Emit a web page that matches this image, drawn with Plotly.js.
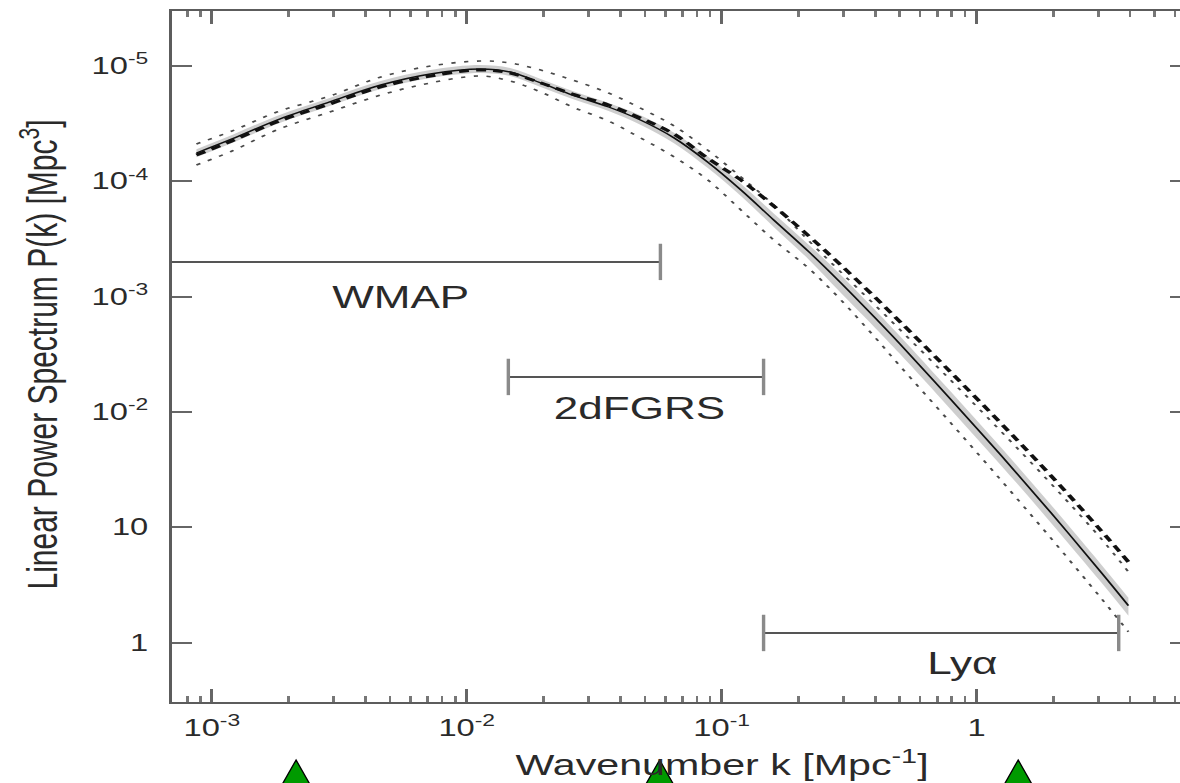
<!DOCTYPE html>
<html>
<head>
<meta charset="utf-8">
<script src="https://cdn.plot.ly/plotly-3.0.1.min.js"></script>
<style>
  html, body { margin: 0; padding: 0; background: #ffffff; overflow: hidden; width: 1180px; height: 783px; }
  #chart { width: 840px; height: 783px; transform: scaleX(1.42); transform-origin: 0 0; }
</style>
</head>
<body>
<div id="chart"></div>
<script>
// ---- data ----
const waveK = [0.00087, 0.0012, 0.0018, 0.0029, 0.0046, 0.0072, 0.0113, 0.0148, 0.0195, 0.026, 0.036, 0.048, 0.065, 0.088, 0.119, 0.16, 0.22, 0.29, 0.40, 0.50, 0.79, 1.25, 1.96, 3.08, 3.94];
const powerCentral = [17600, 23300, 34000, 48800, 68400, 85300, 94200, 88700, 71300, 56000, 44100, 34000, 23800, 14700, 8410, 4620, 2443, 1349, 653, 389, 129, 41.7, 13.3, 4.06, 2.09];
const powerDashed = [16900, 22400, 32700, 46800, 65800, 81900, 92300, 86900, 71300, 57100, 45900, 35400, 25700, 15900, 10250, 6110, 3342, 1923, 984, 608, 222, 79.1, 27.9, 9.33, 5.0];
const powerUpperDotted = [21100, 27300, 39900, 54900, 80300, 100000, 110500, 106200, 92300, 75600, 58300, 43200, 30200, 18700, 10900, 6220, 3038, 1672, 841, 518, 189, 67.4, 23.8, 7.95, 4.1];
const powerLowerDotted = [13850, 18300, 27900, 39900, 56000, 71300, 81900, 74100, 59500, 44100, 33300, 23800, 16300, 10300, 5640, 3100, 1750, 962, 442, 251, 80.7, 25.4, 8.0, 2.42, 1.24];
const bandHigh = [19000, 25200, 36900, 52800, 74100, 92400, 102000, 96100, 77200, 60700, 47800, 37400, 26400, 16500, 9500, 5267, 2809, 1582, 766, 456, 151, 48.9, 15.6, 4.76, 2.45];
const bandLow = [16200, 21500, 31400, 45000, 63200, 78800, 87000, 81900, 65800, 51700, 40700, 30900, 21400, 13100, 7440, 4017, 2088, 1105, 535, 319, 105.6, 34.2, 10.9, 3.33, 1.71];

const surveyNames = ['WMAP', '2dFGRS', 'Ly\u03b1'];
const surveyKmin = [0.00069, 0.01456, 0.146];
const surveyKmax = [0.0575, 0.146, 3.61];
const surveyLevel = [2000, 201, 1.21];
const surveyLeftCap = [false, true, true];
const surveyLabelK = [0.00548, 0.0476, 0.886];
const surveyLabelP = [991, 108, 0.664];

const markerK = [0.00214, 0.0571, 1.456];

const xTickVals = [0.001, 0.01, 0.1, 1];
const xTickText = ['10<sup>-3</sup>', '10<sup>-2</sup>', '10<sup>-1</sup>', '1'];
const xMinorVals = [0.0007, 0.0008, 0.0009, 0.002, 0.003, 0.004, 0.005, 0.006, 0.007, 0.008, 0.009,
  0.02, 0.03, 0.04, 0.05, 0.06, 0.07, 0.08, 0.09, 0.2, 0.3, 0.4, 0.5, 0.6, 0.7, 0.8, 0.9, 2, 3, 4, 5, 6, 7];
const yTickVals = [1, 10, 100, 1000, 10000, 100000];
const yTickText = ['1', '10', '10<sup>-2</sup>', '10<sup>-3</sup>', '10<sup>-4</sup>', '10<sup>-5</sup>'];

const xTitle = 'Wavenumber k [Mpc<sup>-1</sup>]';
const yTitle = 'Linear Power Spectrum P(k) [Mpc<sup>3</sup>]';

// ---- traces ----
const traces = [];
traces.push({x: waveK, y: bandLow, mode: 'lines', line: {width: 0, color: 'rgba(0,0,0,0)', shape: 'spline'}, hoverinfo: 'skip'});
traces.push({x: waveK, y: bandHigh, mode: 'lines', fill: 'tonexty', fillcolor: 'rgba(165,165,165,0.55)', line: {width: 0, color: 'rgba(0,0,0,0)', shape: 'spline'}, hoverinfo: 'skip'});
traces.push({x: waveK, y: powerUpperDotted, mode: 'lines', line: {color: '#4a4a4a', width: 1.6, dash: '3px,6px', shape: 'spline'}});
traces.push({x: waveK, y: powerLowerDotted, mode: 'lines', line: {color: '#4a4a4a', width: 1.6, dash: '3px,6px', shape: 'spline'}});
traces.push({x: waveK, y: powerCentral, mode: 'lines', line: {color: '#111111', width: 1.4, shape: 'spline'}});
traces.push({x: waveK, y: powerDashed, mode: 'lines', line: {color: '#111111', width: 3, dash: '7px,5px', shape: 'spline'}});

for (let i = 0; i < surveyNames.length; i++) {
  traces.push({x: [surveyKmin[i], surveyKmax[i]], y: [surveyLevel[i], surveyLevel[i]], mode: 'lines',
    line: {color: '#555555', width: 2}});
  const capX = surveyLeftCap[i] ? [surveyKmin[i], surveyKmax[i]] : [surveyKmax[i]];
  traces.push({x: capX, y: capX.map(() => surveyLevel[i]), mode: 'markers',
    marker: {symbol: 'line-ns-open', size: 26, color: '#8a8a8a', line: {color: '#8a8a8a', width: 2.4}}});
}

// ---- annotations ----
const annotations = [];
for (let i = 0; i < surveyNames.length; i++) {
  annotations.push({x: Math.log10(surveyLabelK[i]), y: Math.log10(surveyLabelP[i]), xref: 'x', yref: 'y',
    text: surveyNames[i], showarrow: false, xanchor: 'center', yanchor: 'middle',
    font: {size: 31, color: '#2a2a2a'}});
}
annotations.push({x: 0.540, y: -0.089, xref: 'paper', yref: 'paper', text: xTitle, showarrow: false,
  xanchor: 'center', yanchor: 'middle', font: {size: 29, color: '#2a2a2a'}});
annotations.push({x: -0.1304, y: 0.502, xref: 'paper', yref: 'paper', text: yTitle, showarrow: false,
  textangle: -90, xanchor: 'center', yanchor: 'middle', font: {size: 30, color: '#2a2a2a'}});

// ---- green triangle markers below the axis ----
const shapes = markerK.map(k => ({
  type: 'path', xref: 'x', yref: 'paper', xsizemode: 'pixel', ysizemode: 'pixel',
  xanchor: k, yanchor: -0.0839, path: 'M0,0 L16,-40 L-16,-40 Z',
  fillcolor: '#009a00', line: {color: '#000000', width: 1}, layer: 'above'
}));

const axisCommon = {
  type: 'log', showline: true, linecolor: '#5c5c5c', linewidth: 2, mirror: 'allticks',
  ticks: 'inside', tickwidth: 2, tickcolor: '#666666', showgrid: false, zeroline: false,
  tickmode: 'array', tickfont: {size: 23, color: '#2a2a2a'}
};

const layout = {
  width: 840, height: 783,
  margin: {l: 121, r: 2, t: 11, b: 81},
  paper_bgcolor: '#ffffff', plot_bgcolor: '#ffffff',
  showlegend: false,
  font: {family: 'Liberation Sans, Arial, Helvetica, sans-serif', color: '#2a2a2a'},
  xaxis: Object.assign({}, axisCommon, {
    range: [-3.157, 0.837], tickvals: xTickVals, ticktext: xTickText, ticklen: 13,
    ticklabelstandoff: 4,
    minor: {tickmode: 'array', tickvals: xMinorVals, ticks: 'inside', ticklen: 6, tickwidth: 2, tickcolor: '#777777', showgrid: false}
  }),
  yaxis: Object.assign({}, axisCommon, {
    range: [-0.516, 5.477], tickvals: yTickVals, ticktext: yTickText, ticklen: 14,
    ticklabelstandoff: 10
  }),
  annotations: annotations,
  shapes: shapes
};

Plotly.newPlot('chart', traces, layout, {staticPlot: true, displayModeBar: false});
</script>
</body>
</html>
